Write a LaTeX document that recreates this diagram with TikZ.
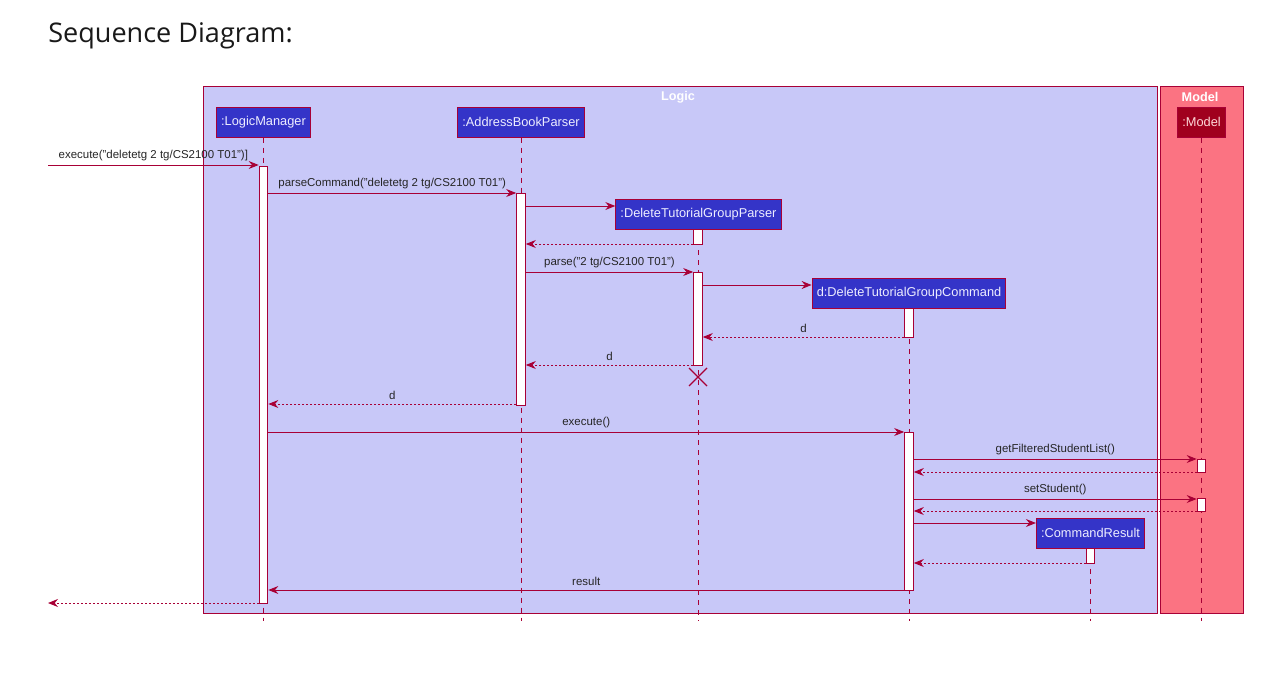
\documentclass[tikz,border=0pt]{standalone}
\usepackage{fontspec}
\setmainfont{Liberation Sans}
\newfontfamily\titlefont{Open Sans}
\usetikzlibrary{arrows.meta}
\definecolor{crim}{HTML}{A80036}
\definecolor{logicbg}{HTML}{C8C8F8}
\definecolor{modelbg}{HTML}{FB7382}
\definecolor{partbg}{HTML}{3434C8}
\definecolor{modelpart}{HTML}{A0001E}
\tikzset{
  frame/.style={draw=crim, line width=0.75pt},
  frametitle/.style={text=white, font=\fontsize{9.5}{11}\selectfont\bfseries, inner sep=0pt},
  part/.style={draw=crim, fill=partbg, text=white!93!blue, line width=0.75pt,
    font=\fontsize{9.6}{11}\selectfont, minimum height=22.5pt, inner xsep=3.5pt, inner ysep=0pt},
  mpart/.style={part, fill=modelpart, text=white!85!red},
  life/.style={draw=crim, line width=0.7pt, dash pattern=on 3.75pt off 3.75pt},
  act/.style={draw=crim, fill=white, line width=0.75pt, minimum width=6.5pt, inner sep=0pt},
  msg/.style={draw=crim, line width=0.75pt, -{Stealth[length=7.5pt, width=6pt, inset=2.5pt]}},
  ret/.style={msg, dash pattern=on 1.5pt off 1.5pt},
  lbl/.style={font=\fontsize{8.6}{10}\selectfont, text=black!85, anchor=south, inner sep=0pt, yshift=3pt},
  xmark/.style={draw=crim, line width=1pt}
}
\newcommand{\actbox}[4]{\node[act, minimum height={(#4-#3)*0.75pt}] (#1) at (#2,{(#3+#4)/2}) {};}
\begin{document}
\begin{tikzpicture}[x=0.75pt,y=-0.75pt]
\useasboundingbox (0,0) rectangle (1284,674);
% title
\node[anchor=west, inner sep=0pt, font=\titlefont\fontsize{20.3}{23}\selectfont, text=black!90] (title) at (48,36) {Sequence Diagram:};
% frames
\filldraw[frame, fill=logicbg] (203,87) rectangle (1157,613);
\filldraw[frame, fill=modelbg] (1160,87) rectangle (1243,613);
\node[frametitle] (logict) at (678,97) {Logic};
\node[frametitle] (modelt) at (1200,97) {Model};
% participants
\node[part] (lm) at (263.5,122) {:LogicManager};
\node[part] (abp) at (521,122) {:AddressBookParser};
\node[part] (dtgp) at (698.5,214.5) {:DeleteTutorialGroupParser};
\node[part] (dtgc) at (909,293.5) {d:DeleteTutorialGroupCommand};
\node[part] (cr) at (1090.5,533) {:CommandResult};
\node[mpart] (mdl) at (1201.5,122) {:Model};
% lifelines
\draw[life] (lm.south) -- (lm.south |- 0,621);
\draw[life] (abp.south) -- (abp.south |- 0,621);
\draw[life] (dtgp.south) -- (dtgp.south |- 0,621);
\draw[life] (dtgc.south) -- (dtgc.south |- 0,621);
\draw[life] (cr.south) -- (cr.south |- 0,621);
\draw[life] (mdl.south) -- (mdl.south |- 0,621);
% activations
\actbox{a1}{263.5}{166}{603}
\actbox{a2}{521}{193}{405}
\actbox{a3}{698}{229}{244}
\actbox{a4}{698}{272}{365}
\actbox{a5}{909}{308}{337}
\actbox{a6}{909}{432}{590}
\actbox{a7}{1201.5}{459}{472}
\actbox{a8}{1201.5}{498}{511}
\actbox{a9}{1090.5}{548}{563}
% redraw participant boxes on top
\node[part] at (dtgp) {:DeleteTutorialGroupParser};
\node[part] at (dtgc) {d:DeleteTutorialGroupCommand};
\node[part] at (cr) {:CommandResult};
% free ends
\coordinate (in) at (48,165);
\coordinate (out) at (48,603);
\coordinate (xc) at (a4.south |- 0,377);
% messages
\draw[msg] (in) -- (a1.west |- in) node[lbl,midway] {execute("deletetg 2 tg/CS2100 T01")]};
\draw[msg] (a1.east |- 0,193) -- (a2.west |- 0,193) node[lbl,midway] {parseCommand("deletetg 2 tg/CS2100 T01")};
\draw[msg] (a2.east |- 0,206) -- (dtgp.west |- 0,206);
\draw[ret] (a3.west |- 0,244) -- (a2.east |- 0,244);
\draw[msg] (a2.east |- 0,272) -- (a4.west |- 0,272) node[lbl,midway] {parse("2 tg/CS2100 T01")};
\draw[msg] (a4.east |- 0,285) -- (dtgc.west |- 0,285);
\draw[ret] (a5.west |- 0,337) -- (a4.east |- 0,337) node[lbl,midway] {d};
\draw[ret] (a4.west |- 0,365) -- (a2.east |- 0,365) node[lbl,midway] {d};
\draw[xmark] ([shift={(-9,-9)}]xc) -- ([shift={(9,9)}]xc)
  ([shift={(-9,9)}]xc) -- ([shift={(9,-9)}]xc);
\draw[ret] (a2.west |- 0,404) -- (a1.east |- 0,404) node[lbl,midway] {d};
\draw[msg] (a1.east |- 0,432) -- (a6.west |- 0,432) node[lbl,midway] {execute()};
\draw[msg] (a6.east |- 0,459) -- (a7.west |- 0,459) node[lbl,midway] {getFilteredStudentList()};
\draw[ret] (a7.west |- 0,472) -- (a6.east |- 0,472);
\draw[msg] (a6.east |- 0,499) -- (a8.west |- 0,499) node[lbl,midway] {setStudent()};
\draw[ret] (a8.west |- 0,511) -- (a6.east |- 0,511);
\draw[msg] (a6.east |- 0,523) -- (cr.west |- 0,523);
\draw[ret] (a9.west |- 0,563) -- (a6.east |- 0,563);
\draw[msg] (a6.west |- 0,590) -- (a1.east |- 0,590) node[lbl,midway] {result};
\draw[ret] (a1.west |- out) -- (out);
\end{tikzpicture}
\end{document}
